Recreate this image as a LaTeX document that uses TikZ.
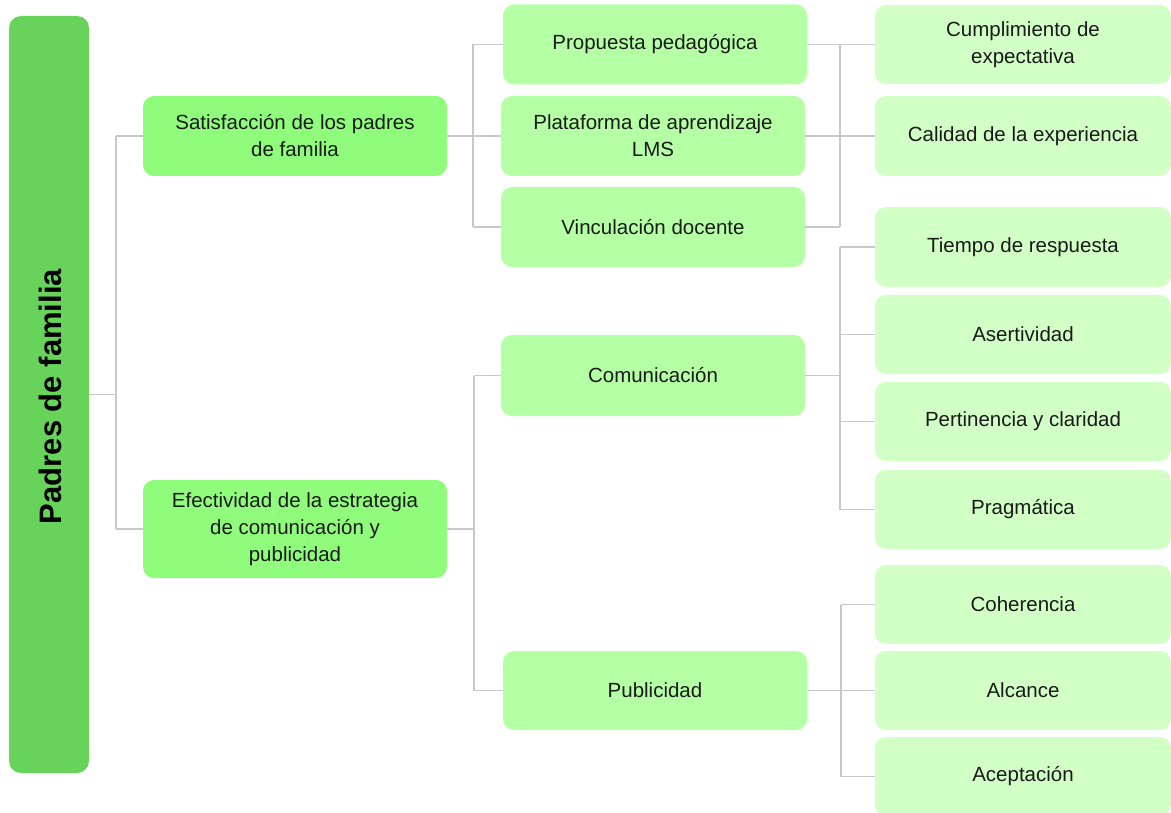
\documentclass[tikz,border=0pt]{standalone}
\usepackage{fontspec}
\setmainfont{Liberation Sans}
\definecolor{rootc}{HTML}{68D35B}
\definecolor{lvA}{HTML}{90FC7C}
\definecolor{lvB}{HTML}{B5FFA5}
\definecolor{lvC}{HTML}{D2FFC6}
\definecolor{linec}{HTML}{C8C8C8}
\definecolor{txt}{HTML}{1A1A1A}
\begin{document}
\begin{tikzpicture}[x=1pt,y=-1pt,
  box/.style={rectangle,rounded corners=11pt,inner sep=0pt,align=center,text=txt,
    font=\fontsize{20.5}{27}\selectfont},
  boxA/.style={box,fill=lvA,minimum width=304pt,minimum height=80pt},
  boxB/.style={box,fill=lvB,minimum width=304pt,minimum height=80pt},
  boxC/.style={box,fill=lvC,minimum width=296pt,minimum height=79pt},
  conn/.style={draw=linec,line width=1.9pt}]
\useasboundingbox (0,0) rectangle (1171,813);
% root
\node[rectangle,rounded corners=12pt,fill=rootc,minimum width=80pt,minimum height=757pt,inner sep=0pt] (root) at (49,394.5) {};
\node[rotate=90,font=\fontsize{31}{36}\selectfont\bfseries,text=black] (roottxt) at (50,396.5) {Padres de familia};
% level 1
\node[boxA] (s1) at (295,136) {Satisfacción de los padres\\de familia};
\node[boxA,minimum height=98pt] (s2) at (295,529) {Efectividad de la estrategia\\de comunicación y\\publicidad};
% level 2
\node[boxB] (p1) at (655,44.5) {Propuesta pedagógica};
\node[boxB] (p2) at (653,136) {Plataforma de aprendizaje\\LMS};
\node[boxB] (p3) at (653,227) {Vinculación docente};
\node[boxB,minimum height=81pt] (cm) at (653,375.5) {Comunicación};
\node[boxB,minimum height=79pt] (pb) at (655,690.5) {Publicidad};
% level 3
\node[boxC] (e1) at (1023,44.5) {Cumplimiento de\\expectativa};
\node[boxC,minimum height=80pt] (e2) at (1023,136) {Calidad de la experiencia};
\node[boxC,minimum height=80pt] (t1) at (1023,247) {Tiempo de respuesta};
\node[boxC] (t2) at (1023,334.5) {Asertividad};
\node[boxC] (t3) at (1023,421.5) {Pertinencia y claridad};
\node[boxC] (t4) at (1023,509.5) {Pragmática};
\node[boxC] (u1) at (1023,604.5) {Coherencia};
\node[boxC] (u2) at (1023,690.5) {Alcance};
\node[boxC] (u3) at (1023,776.5) {Aceptación};
% junction x positions
\coordinate (j0) at (116,0);
\coordinate (j1) at (473,0);
\coordinate (j2) at (474,0);
\coordinate (k1) at (840,0);
\coordinate (k2) at (840,0);
\coordinate (k3) at (841,0);
% root -> level 1
\draw[conn] (root.east) -- (j0 |- root.east);
\draw[conn] (j0 |- s1.west) -- (j0 |- s2.west);
\draw[conn] (j0 |- s1.west) -- (s1.west);
\draw[conn] (j0 |- s2.west) -- (s2.west);
% s1 -> level 2
\draw[conn] (s1.east) -- (j1 |- s1.east);
\draw[conn] (j1 |- p1.west) -- (j1 |- p3.west);
\draw[conn] (j1 |- p1.west) -- (p1.west);
\draw[conn] (j1 |- p2.west) -- (p2.west);
\draw[conn] (j1 |- p3.west) -- (p3.west);
% level 2 group 1 -> level 3
\draw[conn] (p1.east) -- (k1 |- p1.east);
\draw[conn] (p2.east) -- (k1 |- p2.east);
\draw[conn] (p3.east) -- (k1 |- p3.east);
\draw[conn] (k1 |- p1.east) -- (k1 |- p3.east);
\draw[conn] (k1 |- e1.west) -- (e1.west);
\draw[conn] (k1 |- e2.west) -- (e2.west);
% s2 -> level 2
\draw[conn] (s2.east) -- (j2 |- s2.east);
\draw[conn] (j2 |- cm.west) -- (j2 |- pb.west);
\draw[conn] (j2 |- cm.west) -- (cm.west);
\draw[conn] (j2 |- pb.west) -- (pb.west);
% comunicacion -> level 3
\draw[conn] (cm.east) -- (k2 |- cm.east);
\draw[conn] (k2 |- t1.west) -- (k2 |- t4.west);
\draw[conn] (k2 |- t1.west) -- (t1.west);
\draw[conn] (k2 |- t2.west) -- (t2.west);
\draw[conn] (k2 |- t3.west) -- (t3.west);
\draw[conn] (k2 |- t4.west) -- (t4.west);
% publicidad -> level 3
\draw[conn] (pb.east) -- (k3 |- pb.east);
\draw[conn] (k3 |- u1.west) -- (k3 |- u3.west);
\draw[conn] (k3 |- u1.west) -- (u1.west);
\draw[conn] (k3 |- u2.west) -- (u2.west);
\draw[conn] (k3 |- u3.west) -- (u3.west);
\end{tikzpicture}
\end{document}
